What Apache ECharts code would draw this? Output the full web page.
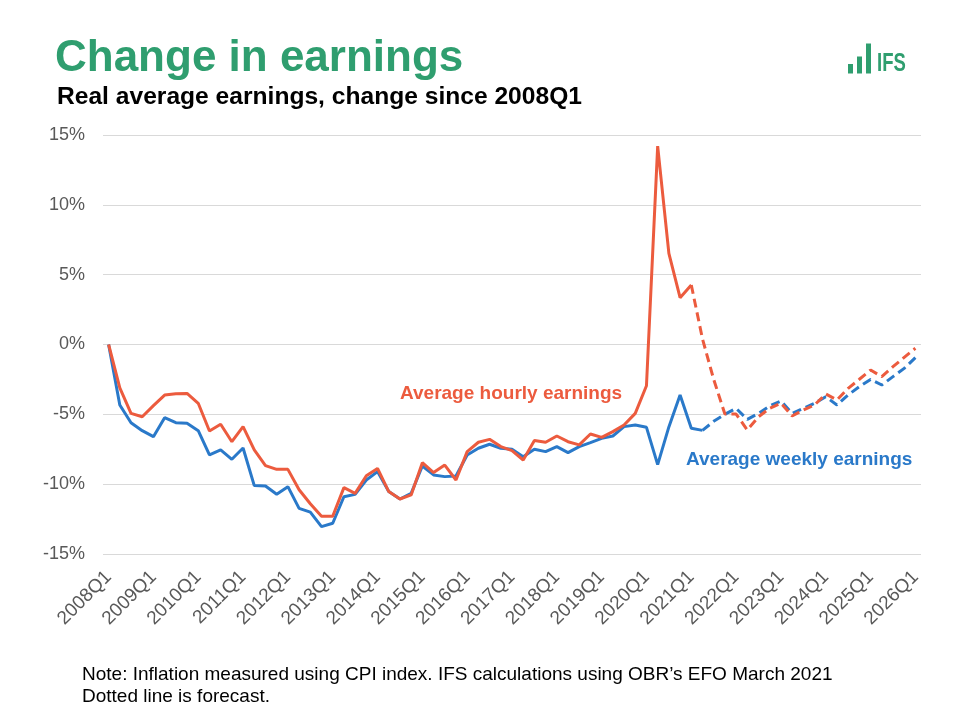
<!DOCTYPE html>
<html>
<head>
<meta charset="utf-8">
<script src="https://cdn.jsdelivr.net/npm/echarts@6/dist/echarts.min.js"></script>
<style>
  html, body { margin: 0; padding: 0; background: #ffffff; }
  #chart { width: 960px; height: 709px; }
</style>
</head>
<body>
<div id="chart"></div>
<script>
// Quarterly categories 2008Q1 .. 2026Q1
const categories = [
  "2008Q1","2008Q2","2008Q3","2008Q4","2009Q1","2009Q2","2009Q3","2009Q4",
  "2010Q1","2010Q2","2010Q3","2010Q4","2011Q1","2011Q2","2011Q3","2011Q4",
  "2012Q1","2012Q2","2012Q3","2012Q4","2013Q1","2013Q2","2013Q3","2013Q4",
  "2014Q1","2014Q2","2014Q3","2014Q4","2015Q1","2015Q2","2015Q3","2015Q4",
  "2016Q1","2016Q2","2016Q3","2016Q4","2017Q1","2017Q2","2017Q3","2017Q4",
  "2018Q1","2018Q2","2018Q3","2018Q4","2019Q1","2019Q2","2019Q3","2019Q4",
  "2020Q1","2020Q2","2020Q3","2020Q4","2021Q1","2021Q2","2021Q3","2021Q4",
  "2022Q1","2022Q2","2022Q3","2022Q4","2023Q1","2023Q2","2023Q3","2023Q4",
  "2024Q1","2024Q2","2024Q3","2024Q4","2025Q1","2025Q2","2025Q3","2025Q4",
  "2026Q1"
];

// Average hourly earnings, % change since 2008Q1
const hourly = [
  0, -3.1, -4.93, -5.17, -4.38, -3.62, -3.52, -3.5,
  -4.21, -6.19, -5.71, -6.96, -5.88, -7.55, -8.67, -8.94,
  -8.94, -10.4, -11.4, -12.3, -12.3, -10.25, -10.66, -9.4,
  -8.87, -10.53, -11.06, -10.77, -8.46, -9.17, -8.63, -9.7,
  -7.67, -7.0, -6.79, -7.31, -7.6, -8.27, -6.88, -7.0,
  -6.55, -6.96, -7.19, -6.41, -6.65, -6.24, -5.76, -4.93,
  -2.95, 14.2, 6.53, 3.35, 4.26, 0.4, -2.5, -4.98,
  -4.98, -6.12, -5.17, -4.57, -4.2, -5.12, -4.69, -4.33,
  -3.54, -3.97, -3.14, -2.49, -1.83, -2.3, -1.59, -0.92,
  -0.27
];

// Average weekly earnings, % change since 2008Q1
const weekly = [
  0, -4.33, -5.6, -6.17, -6.6, -5.24, -5.6, -5.64,
  -6.17, -7.91, -7.55, -8.22, -7.41, -10.1, -10.13, -10.72,
  -10.18, -11.73, -12.0, -13.04, -12.8, -10.9, -10.73, -9.7,
  -9.1, -10.53, -11.06, -10.66, -8.7, -9.34, -9.46, -9.41,
  -7.91, -7.43, -7.14, -7.43, -7.5, -8.03, -7.5, -7.67,
  -7.31, -7.74, -7.31, -7.03, -6.72, -6.55, -5.88, -5.76,
  -5.93, -8.6, -5.9, -3.61, -6.0, -6.15, -5.5, -5.0,
  -4.57, -5.36, -4.93, -4.4, -4.04, -4.93, -4.57, -4.2,
  -3.74, -4.33, -3.61, -3.02, -2.5, -2.9, -2.3, -1.71,
  -0.94
];

// Last actual (non-forecast) quarter for each series
const hourlyLastActual = "2021Q1";
const weeklyLastActual = "2021Q2";

const yTicks = { min: -15, max: 15, interval: 5 };

function splitActual(values, lastCat) {
  const k = categories.indexOf(lastCat);
  return values.map((v, i) => (i <= k ? v : null));
}
function splitForecast(values, lastCat) {
  const k = categories.indexOf(lastCat);
  return values.map((v, i) => (i >= k ? v : null));
}

const RED = '#EC5B3E';
const BLUE = '#2A79C9';
const GREEN = '#2F9E6F';
const FONT = '"Liberation Sans", Arial, sans-serif';

const chart = echarts.init(document.getElementById('chart'), null, { renderer: 'canvas' });

const option = {
  backgroundColor: '#ffffff',
  animation: false,
  grid: { left: 103, top: 135, right: 39, bottom: 155, containLabel: false },
  xAxis: {
    type: 'category',
    data: categories,
    boundaryGap: true,
    axisLine: { show: false },
    axisTick: { show: false },
    splitLine: { show: false },
    axisLabel: {
      interval: 3,
      rotate: 45,
      margin: 20,
      color: '#595959',
      fontSize: 19,
      fontFamily: FONT
    }
  },
  yAxis: {
    type: 'value',
    min: yTicks.min,
    max: yTicks.max,
    interval: yTicks.interval,
    axisLine: { show: false },
    axisTick: { show: false },
    splitLine: { show: true, lineStyle: { color: '#d9d9d9', width: 1 } },
    axisLabel: {
      formatter: '{value}%',
      margin: 18,
      color: '#595959',
      fontSize: 18,
      fontFamily: FONT
    }
  },
  series: [
    {
      name: 'Average weekly earnings',
      type: 'line',
      data: splitActual(weekly, weeklyLastActual),
      showSymbol: false,
      connectNulls: false,
      lineStyle: { color: BLUE, width: 3 },
      z: 2
    },
    {
      name: 'Average weekly earnings (forecast)',
      type: 'line',
      data: splitForecast(weekly, weeklyLastActual),
      showSymbol: false,
      connectNulls: false,
      lineStyle: { color: BLUE, width: 3, type: [9, 5] },
      z: 2
    },
    {
      name: 'Average hourly earnings',
      type: 'line',
      data: splitActual(hourly, hourlyLastActual),
      showSymbol: false,
      connectNulls: false,
      lineStyle: { color: RED, width: 3 },
      z: 3
    },
    {
      name: 'Average hourly earnings (forecast)',
      type: 'line',
      data: splitForecast(hourly, hourlyLastActual),
      showSymbol: false,
      connectNulls: false,
      lineStyle: { color: RED, width: 3, type: [9, 5] },
      z: 3
    }
  ],
  graphic: [
    {
      type: 'text', left: 55, top: 37,
      style: { text: 'Change in earnings', fill: GREEN, font: 'bold 44px ' + FONT }
    },
    {
      type: 'text', left: 57, top: 85,
      style: { text: 'Real average earnings, change since 2008Q1', fill: '#000000', font: 'bold 24.6px ' + FONT }
    },
    {
      type: 'text', left: 400, top: 384,
      style: { text: 'Average hourly earnings', fill: RED, font: 'bold 19px ' + FONT }
    },
    {
      type: 'text', left: 686, top: 450,
      style: { text: 'Average weekly earnings', fill: BLUE, font: 'bold 19px ' + FONT }
    },
    {
      type: 'text', left: 82, top: 665,
      style: { text: 'Note: Inflation measured using CPI index. IFS calculations using OBR\u2019s EFO March 2021', fill: '#000000', font: '19px ' + FONT }
    },
    {
      type: 'text', left: 82, top: 687,
      style: { text: 'Dotted line is forecast.', fill: '#000000', font: '19px ' + FONT }
    },
    // IFS logo
    { type: 'rect', shape: { x: 848, y: 64, width: 5, height: 9.5 }, style: { fill: GREEN } },
    { type: 'rect', shape: { x: 857, y: 56.5, width: 5, height: 17 }, style: { fill: GREEN } },
    { type: 'rect', shape: { x: 866, y: 43.5, width: 5, height: 30 }, style: { fill: GREEN } },
    {
      type: 'text', x: 877, y: 52, scaleX: 0.74,
      style: { text: 'IFS', fill: GREEN, font: 'bold 25px ' + FONT }
    }
  ]
};

chart.setOption(option);
</script>
</body>
</html>
